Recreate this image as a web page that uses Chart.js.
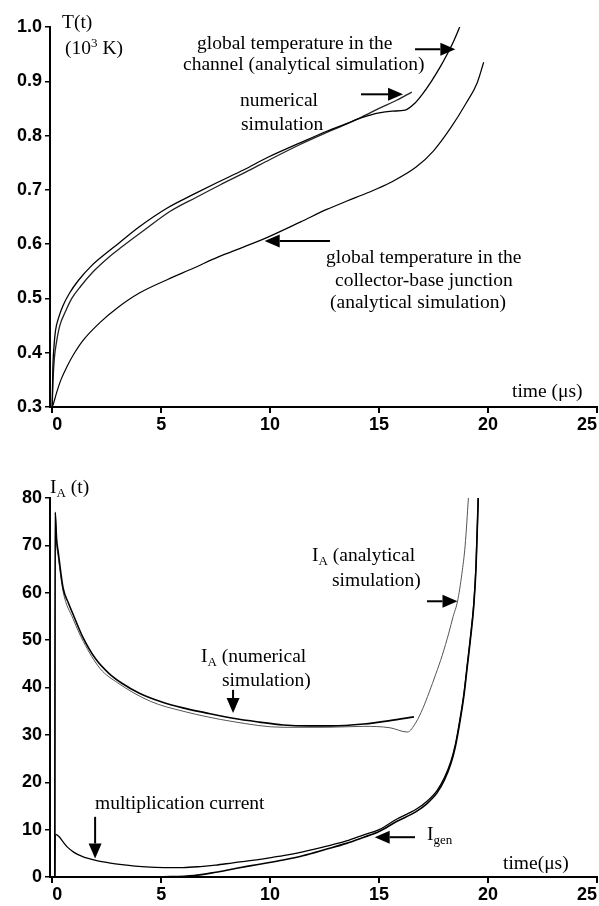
<!DOCTYPE html>
<html><head><meta charset="utf-8">
<script src="https://cdn.jsdelivr.net/npm/chart.js@4.4.0/dist/chart.umd.min.js"></script>
<style>
html,body{margin:0;padding:0;background:#fff;width:599px;height:906px;overflow:hidden;}
#wrap{position:relative;width:599px;height:906px;}
canvas{position:absolute;left:0;}
.t{position:absolute;font-family:"Liberation Serif","Times New Roman",serif;font-size:19.5px;line-height:20px;color:#000;white-space:nowrap;}
.t sub{font-size:13px;vertical-align:-4px;line-height:0}
.t sup{font-size:13px;vertical-align:7px;line-height:0}
</style></head>
<body><div id="wrap">
<canvas id="c1" width="599" height="450" style="top:0"></canvas>
<canvas id="c2" width="599" height="456" style="top:450px"></canvas>
<div class="t" style="left:62px;top:12px">T(t)</div>
<div class="t" style="left:65px;top:38px">(10<sup>3</sup> K)</div>
<div class="t" style="left:197px;top:33px">global temperature in the</div>
<div class="t" style="left:183px;top:54px">channel (analytical simulation)</div>
<div class="t" style="left:240px;top:90px">numerical</div>
<div class="t" style="left:241px;top:114px">simulation</div>
<div class="t" style="left:326px;top:247px">global temperature in the</div>
<div class="t" style="left:335px;top:270px">collector-base junction</div>
<div class="t" style="left:330px;top:292px">(analytical simulation)</div>
<div class="t" style="left:512px;top:381px">time (μs)</div>
<div class="t" style="left:50px;top:477px">I<sub>A</sub> (t)</div>
<div class="t" style="left:201px;top:646px">I<sub>A</sub> (numerical</div>
<div class="t" style="left:222px;top:670px">simulation)</div>
<div class="t" style="left:312px;top:545px">I<sub>A</sub> (analytical</div>
<div class="t" style="left:332px;top:570px">simulation)</div>
<div class="t" style="left:95px;top:793px">multiplication current</div>
<div class="t" style="left:427px;top:824px">I<sub>gen</sub></div>
<div class="t" style="left:503px;top:853px">time(μs)</div>
</div>
<script>
// ---------- top chart data: temperature (10^3 K) vs time (µs)
const tChan = [0, 0.03, 0.08, 0.15, 0.3, 0.5, 0.8, 1.2, 1.8, 2.5, 3.0, 4.0, 5.3, 6.5, 7.6, 8.8, 9.9, 11.4, 12.6, 13.5, 14.2, 15.0, 15.6, 16.2, 16.6, 17.0, 17.4, 17.8, 18.1, 18.4, 18.7];
const vChan = [0.30, 0.37, 0.41, 0.44, 0.465, 0.487, 0.51, 0.533, 0.56, 0.584, 0.60, 0.632, 0.667, 0.692, 0.714, 0.737, 0.76, 0.787, 0.808, 0.822, 0.833, 0.842, 0.845, 0.847, 0.858, 0.877, 0.90, 0.926, 0.948, 0.972, 1.0];
const tNum = [0, 0.04, 0.1, 0.2, 0.35, 0.6, 0.9, 1.3, 1.9, 2.6, 3.2, 4.2, 5.4, 6.6, 7.7, 8.9, 10.0, 11.4, 12.6, 13.5, 14.2, 15.0, 15.8, 16.5];
const vNum = [0.30, 0.35, 0.39, 0.42, 0.45, 0.475, 0.50, 0.522, 0.55, 0.576, 0.595, 0.625, 0.66, 0.686, 0.709, 0.733, 0.756, 0.784, 0.806, 0.821, 0.834, 0.85, 0.865, 0.88];
const tJun = [0, 0.05, 0.2, 0.4, 0.7, 1.0, 1.4, 2.2, 3.0, 4.0, 5.3, 6.5, 7.6, 8.8, 9.9, 11.4, 12.6, 13.5, 14.5, 15.5, 16.7, 17.5, 18.3, 19.0, 19.5, 19.8];
const vJun = [0.30, 0.305, 0.326, 0.35, 0.376, 0.398, 0.422, 0.456, 0.483, 0.51, 0.535, 0.556, 0.576, 0.595, 0.613, 0.641, 0.664, 0.679, 0.695, 0.713, 0.742, 0.772, 0.815, 0.86, 0.897, 0.935];
const topYTicks = [0.3, 0.4, 0.5, 0.6, 0.7, 0.8, 0.9, 1.0];

// ---------- bottom chart data: I_A (t) vs time (µs)
const tIAn = [0.12, 0.14, 0.2, 0.28, 0.5, 0.75, 1.0, 1.4, 2.0, 2.6, 3.2, 4.0, 5.0, 6.0, 7.0, 8.3, 9.5, 10.6, 11.8, 12.8, 14.3, 15.5, 16.6];
const vIAn = [0, 77, 71.5, 68.5, 61, 57.8, 55, 50.7, 46, 43, 40.9, 38.8, 37, 35.7, 34.7, 33.5, 32.7, 32.1, 31.9, 31.9, 32.3, 33.0, 33.8];
const tIAa = [0.12, 0.14, 0.2, 0.28, 0.5, 0.96, 1.43, 2.2, 3.0, 4.5, 6.0, 8.3, 10.6, 12.6, 14.3, 15.5, 16.3, 16.7, 17.0, 17.3, 17.6, 17.9, 18.2, 18.4, 18.6, 18.8, 18.95, 19.1];
const vIAa = [0, 76, 70.5, 67.5, 60.3, 54.5, 49.7, 44, 41, 37.1, 35, 32.8, 31.6, 31.6, 31.8, 31.5, 30.6, 32.7, 35.5, 39, 42.8, 46.8, 51.5, 55, 58.2, 64, 70, 80];
const tMul = [0.12, 0.15, 0.3, 0.5, 0.7, 1.0, 1.4, 2.0, 2.6, 3.2, 3.8, 4.5, 5.3, 6.0, 6.8, 7.5, 8.3, 9.0, 9.9, 10.6, 11.5, 12.6, 13.5, 14.3, 15.0, 15.8, 16.7, 17.2, 17.65, 18.0, 18.3, 18.5, 18.7, 18.9, 19.05, 19.2, 19.35, 19.45, 19.55];
const vMul = [0, 9.0, 8.6, 7.4, 6.3, 5.2, 4.3, 3.5, 3.0, 2.6, 2.3, 2.1, 2.0, 2.0, 2.2, 2.5, 3.0, 3.4, 4.0, 4.5, 5.3, 6.5, 7.6, 8.9, 10.0, 12.2, 14.3, 16.0, 18.2, 21.0, 24.5, 28, 33, 39, 45, 51, 58, 66, 80];
const tGen = [4.9, 6.5, 7.5, 8.3, 9.0, 9.9, 10.6, 11.5, 12.6, 13.5, 14.3, 15.0, 15.8, 16.7, 17.2, 17.65, 18.0, 18.3, 18.5, 18.7, 18.9, 19.05, 19.2, 19.35, 19.45, 19.55];
const vGen = [0, 0.3, 1.0, 1.7, 2.3, 3.0, 3.6, 4.5, 5.9, 7.1, 8.4, 9.6, 11.7, 13.8, 15.5, 17.7, 20.5, 24, 27.5, 32.5, 38.5, 44.5, 50.5, 57.5, 65.5, 80];
const botYTicks = [0, 10, 20, 30, 40, 50, 60, 70, 80];
const xTicks = [0, 5, 10, 15, 20, 25];

// annotation arrows in data units: [x0, y0, x1, y1]
const topArrows = [[16.65, 0.959, 18.5, 0.959], [14.17, 0.876, 16.1, 0.876], [12.75, 0.606, 9.75, 0.606]];
const botArrows = [[8.3, 39.5, 8.3, 34.6], [17.2, 58.2, 18.6, 58.2], [1.97, 12.7, 1.97, 3.9], [16.65, 8.4, 14.8, 8.4]];

const pts = (t, v) => t.map((x, i) => ({x: x, y: v[i]}));

const arrowPlugin = {
  id: 'arrows',
  afterDatasetsDraw(chart, args, opts) {
    const ctx = chart.ctx, xs = chart.scales.x, ys = chart.scales.y;
    (opts.list || []).forEach(a => {
      const x0 = xs.getPixelForValue(a[0]), y0 = ys.getPixelForValue(a[1]);
      const x1 = xs.getPixelForValue(a[2]), y1 = ys.getPixelForValue(a[3]);
      const ang = Math.atan2(y1 - y0, x1 - x0), L = 15, W = 6.5;
      const bx = x1 - L * Math.cos(ang), by = y1 - L * Math.sin(ang);
      ctx.save();
      ctx.strokeStyle = '#000'; ctx.fillStyle = '#000'; ctx.lineWidth = 2;
      ctx.beginPath(); ctx.moveTo(x0, y0); ctx.lineTo(bx, by); ctx.stroke();
      ctx.beginPath(); ctx.moveTo(x1, y1);
      ctx.lineTo(bx + W * Math.sin(ang), by - W * Math.cos(ang));
      ctx.lineTo(bx - W * Math.sin(ang), by + W * Math.cos(ang));
      ctx.closePath(); ctx.fill();
      ctx.restore();
    });
  }
};

const tickFont = {family: '"Liberation Sans", Arial, sans-serif', size: 18, weight: 'bold'};

function makeScales(yMin, yMax, yTicks, yDec, xAxisH) {
  return {
    x: {
      type: 'linear', min: -0.1, max: 25,
      afterBuildTicks: s => { s.ticks = xTicks.map(v => ({value: v})); },
      afterFit: s => { s.height = xAxisH; },
      grid: {drawOnChartArea: false, drawTicks: true, tickLength: 6, color: '#000', lineWidth: 2},
      border: {display: true, color: '#000', width: 2},
      ticks: {color: '#000', font: tickFont, padding: 1, align: 'inner', maxRotation: 0, callback: v => String(v)}
    },
    y: {
      type: 'linear', min: yMin, max: yMax,
      afterBuildTicks: s => { s.ticks = yTicks.map(v => ({value: v})); },
      afterFit: s => { s.width = 50; },
      grid: {drawOnChartArea: false, drawTicks: true, tickLength: 5, color: '#000', lineWidth: 1.5},
      border: {display: true, color: '#000', width: 2},
      ticks: {color: '#000', font: tickFont, padding: 3, callback: v => Number(v).toFixed(yDec)}
    }
  };
}

function ds(data, color, width) {
  return {data: data, borderColor: color, borderWidth: width, pointRadius: 0, fill: false, cubicInterpolationMode: 'monotone'};
}

new Chart(document.getElementById('c1'), {
  type: 'line',
  data: {datasets: [
    ds(pts(tChan, vChan), '#000', 1.3),
    ds(pts(tNum, vNum), '#222', 1.3),
    ds(pts(tJun, vJun), '#000', 1.2)
  ]},
  options: {
    responsive: false, animation: false, devicePixelRatio: 1,
    layout: {padding: {top: 27, left: 0, right: 2, bottom: 0}},
    plugins: {legend: {display: false}, tooltip: {enabled: false}, arrows: {list: topArrows}},
    scales: makeScales(0.3, 1.0, topYTicks, 1, 43)
  },
  plugins: [arrowPlugin]
});

new Chart(document.getElementById('c2'), {
  type: 'line',
  data: {datasets: [
    ds(pts(tIAn, vIAn), '#000', 1.6),
    ds(pts(tIAa, vIAa), '#555', 1.0),
    ds(pts(tMul, vMul), '#000', 1.3),
    ds(pts(tGen, vGen), '#000', 1.6)
  ]},
  options: {
    responsive: false, animation: false, devicePixelRatio: 1,
    layout: {padding: {top: 48, left: 0, right: 2, bottom: 0}},
    plugins: {legend: {display: false}, tooltip: {enabled: false}, arrows: {list: botArrows}},
    scales: makeScales(0, 80, botYTicks, 0, 29)
  },
  plugins: [arrowPlugin]
});
</script>
</body></html>
